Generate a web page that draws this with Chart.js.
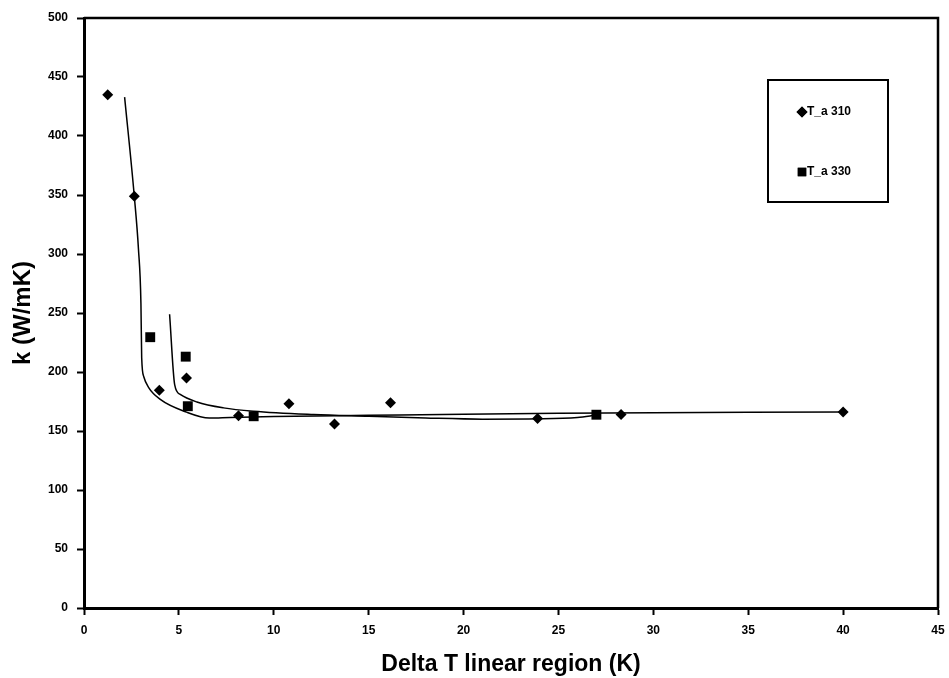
<!DOCTYPE html>
<html>
<head>
<meta charset="utf-8">
<title>k vs Delta T</title>
<script src="https://cdn.jsdelivr.net/npm/chart.js@4.4.1/dist/chart.umd.min.js"></script>
<style>
    html, body { margin: 0; padding: 0; background: #fff; }
    #wrap { width: 949px; height: 678px; }
</style>
</head>
<body>
<div id="wrap"><canvas id="kChart" width="949" height="678"></canvas></div>
<script>
// Measured points, T_a 310
const dT310 = [1.25, 2.65, 3.97, 5.40, 8.14, 10.8, 13.2, 16.15, 23.9, 28.3, 40.0];
const k310  = [435, 349, 184.5, 195, 163, 173, 156, 174, 160.5, 164, 166];

// Measured points, T_a 330
const dT330 = [3.49, 5.36, 5.47, 8.94, 27.0];
const k330  = [229.5, 213, 171, 162.5, 163.8];

// Trend line (T_a 310)
const fitX310 = [2.14, 2.65, 2.87, 3.0, 3.04, 3.15, 3.4, 4.0, 5.4, 6.6, 7.7, 10, 15, 20, 25, 30, 35, 40];
const fitY310 = [433, 349, 304, 258, 212, 196, 187, 177, 166, 161, 161.5, 162.3, 163.3, 164.3, 165, 165.5, 165.8, 166];

// Trend line (T_a 330)
const fitX330 = [4.51, 4.78, 5.07, 5.95, 7.35, 8.93, 12.1, 15, 18, 21, 24, 26, 27];
const fitY330 = [249, 189, 181, 174.6, 169.6, 166.8, 164, 162.5, 161, 160, 160.3, 161.5, 163.5];

const seriesNames = ['T_a 310', 'T_a 330'];
const xTicks = [0, 5, 10, 15, 20, 25, 30, 35, 40, 45];
const yTicks = [0, 50, 100, 150, 200, 250, 300, 350, 400, 450, 500];

const toXY = (xs, ys) => xs.map((x, i) => ({ x: x, y: ys[i] }));

Chart.defaults.font.family = 'Arial, "Liberation Sans", sans-serif';
Chart.defaults.color = '#000';

// Frame on top and right + boxed legend inside the plot
const framePlugin = {
    id: 'frame',
    afterDraw(chart) {
        const ctx = chart.ctx;
        const a = chart.chartArea;
        ctx.save();
        ctx.strokeStyle = '#000';
        ctx.lineWidth = 2.5;
        ctx.beginPath();
        ctx.moveTo(a.left, a.top);
        ctx.lineTo(a.right, a.top);
        ctx.lineTo(a.right, a.bottom);
        ctx.stroke();

        // legend box
        const bx = 768, by = 80, bw = 120, bh = 122;
        ctx.lineWidth = 2;
        ctx.strokeRect(bx, by, bw, bh);
        ctx.font = 'bold 12px Arial, "Liberation Sans", sans-serif';
        ctx.textBaseline = 'middle';
        ctx.textAlign = 'left';
        [0, 1].forEach(i => {
            const ds = chart.data.datasets[i];
            const cy = by + 32 + i * 60;
            ctx.fillStyle = '#000';
            Chart.helpers.drawPoint(ctx, {
                pointStyle: ds.pointStyle,
                radius: i === 0 ? 5.5 : 6,
                borderWidth: 0
            }, bx + 34, cy);
            ctx.fill();
            ctx.fillText(seriesNames[i], bx + 39, cy);
        });
        ctx.restore();
    }
};

const ctx = document.getElementById('kChart').getContext('2d');
new Chart(ctx, {
    type: 'scatter',
    data: {
        datasets: [{
            label: seriesNames[0],
            data: toXY(dT310, k310),
            pointStyle: 'rectRot',
            pointRadius: 5.5,
            backgroundColor: '#000',
            borderColor: '#000',
            borderWidth: 0,
            showLine: false,
            order: 0
        }, {
            label: seriesNames[1],
            data: toXY(dT330, k330),
            pointStyle: 'rect',
            pointRadius: 7,
            backgroundColor: '#000',
            borderColor: '#000',
            borderWidth: 0,
            showLine: false,
            order: 0
        }, {
            label: 'fit 310',
            data: toXY(fitX310, fitY310),
            showLine: true,
            pointRadius: 0,
            borderColor: '#000',
            borderWidth: 1.5,
            cubicInterpolationMode: 'monotone',
            order: 1
        }, {
            label: 'fit 330',
            data: toXY(fitX330, fitY330),
            showLine: true,
            pointRadius: 0,
            borderColor: '#000',
            borderWidth: 1.5,
            cubicInterpolationMode: 'monotone',
            order: 1
        }]
    },
    options: {
        responsive: false,
        animation: false,
        layout: { padding: { top: 18, right: 11, left: 0, bottom: 0 } },
        plugins: {
            legend: { display: false },
            tooltip: { enabled: false }
        },
        scales: {
            x: {
                type: 'linear',
                min: 0,
                max: 45,
                afterBuildTicks: s => { s.ticks = xTicks.map(v => ({ value: v })); },
                afterFit: s => { s.height = 70; s.paddingRight = 0; s.paddingLeft = 0; },
                border: { color: '#000', width: 3 },
                grid: { drawOnChartArea: false, drawTicks: true, tickLength: 7, tickColor: '#000', tickWidth: 2 },
                ticks: { font: { size: 12, weight: 'bold' }, padding: 8, maxRotation: 0 },
                title: {
                    display: true,
                    text: 'Delta T linear region (K)',
                    font: { size: 23, weight: 'bold' },
                    padding: { top: 2, bottom: 0 }
                }
            },
            y: {
                min: 0,
                max: 500,
                afterBuildTicks: s => { s.ticks = yTicks.map(v => ({ value: v })); },
                afterFit: s => { s.width = 84; },
                border: { color: '#000', width: 3 },
                grid: { drawOnChartArea: false, drawTicks: true, tickLength: 7, tickColor: '#000', tickWidth: 2 },
                ticks: { font: { size: 12, weight: 'bold' }, padding: 9 },
                title: {
                    display: true,
                    text: 'k (W/mK)',
                    font: { size: 24, weight: 'bold' },
                    padding: { top: 9, bottom: 0 }
                }
            }
        }
    },
    plugins: [framePlugin]
});
</script>
</body>
</html>
